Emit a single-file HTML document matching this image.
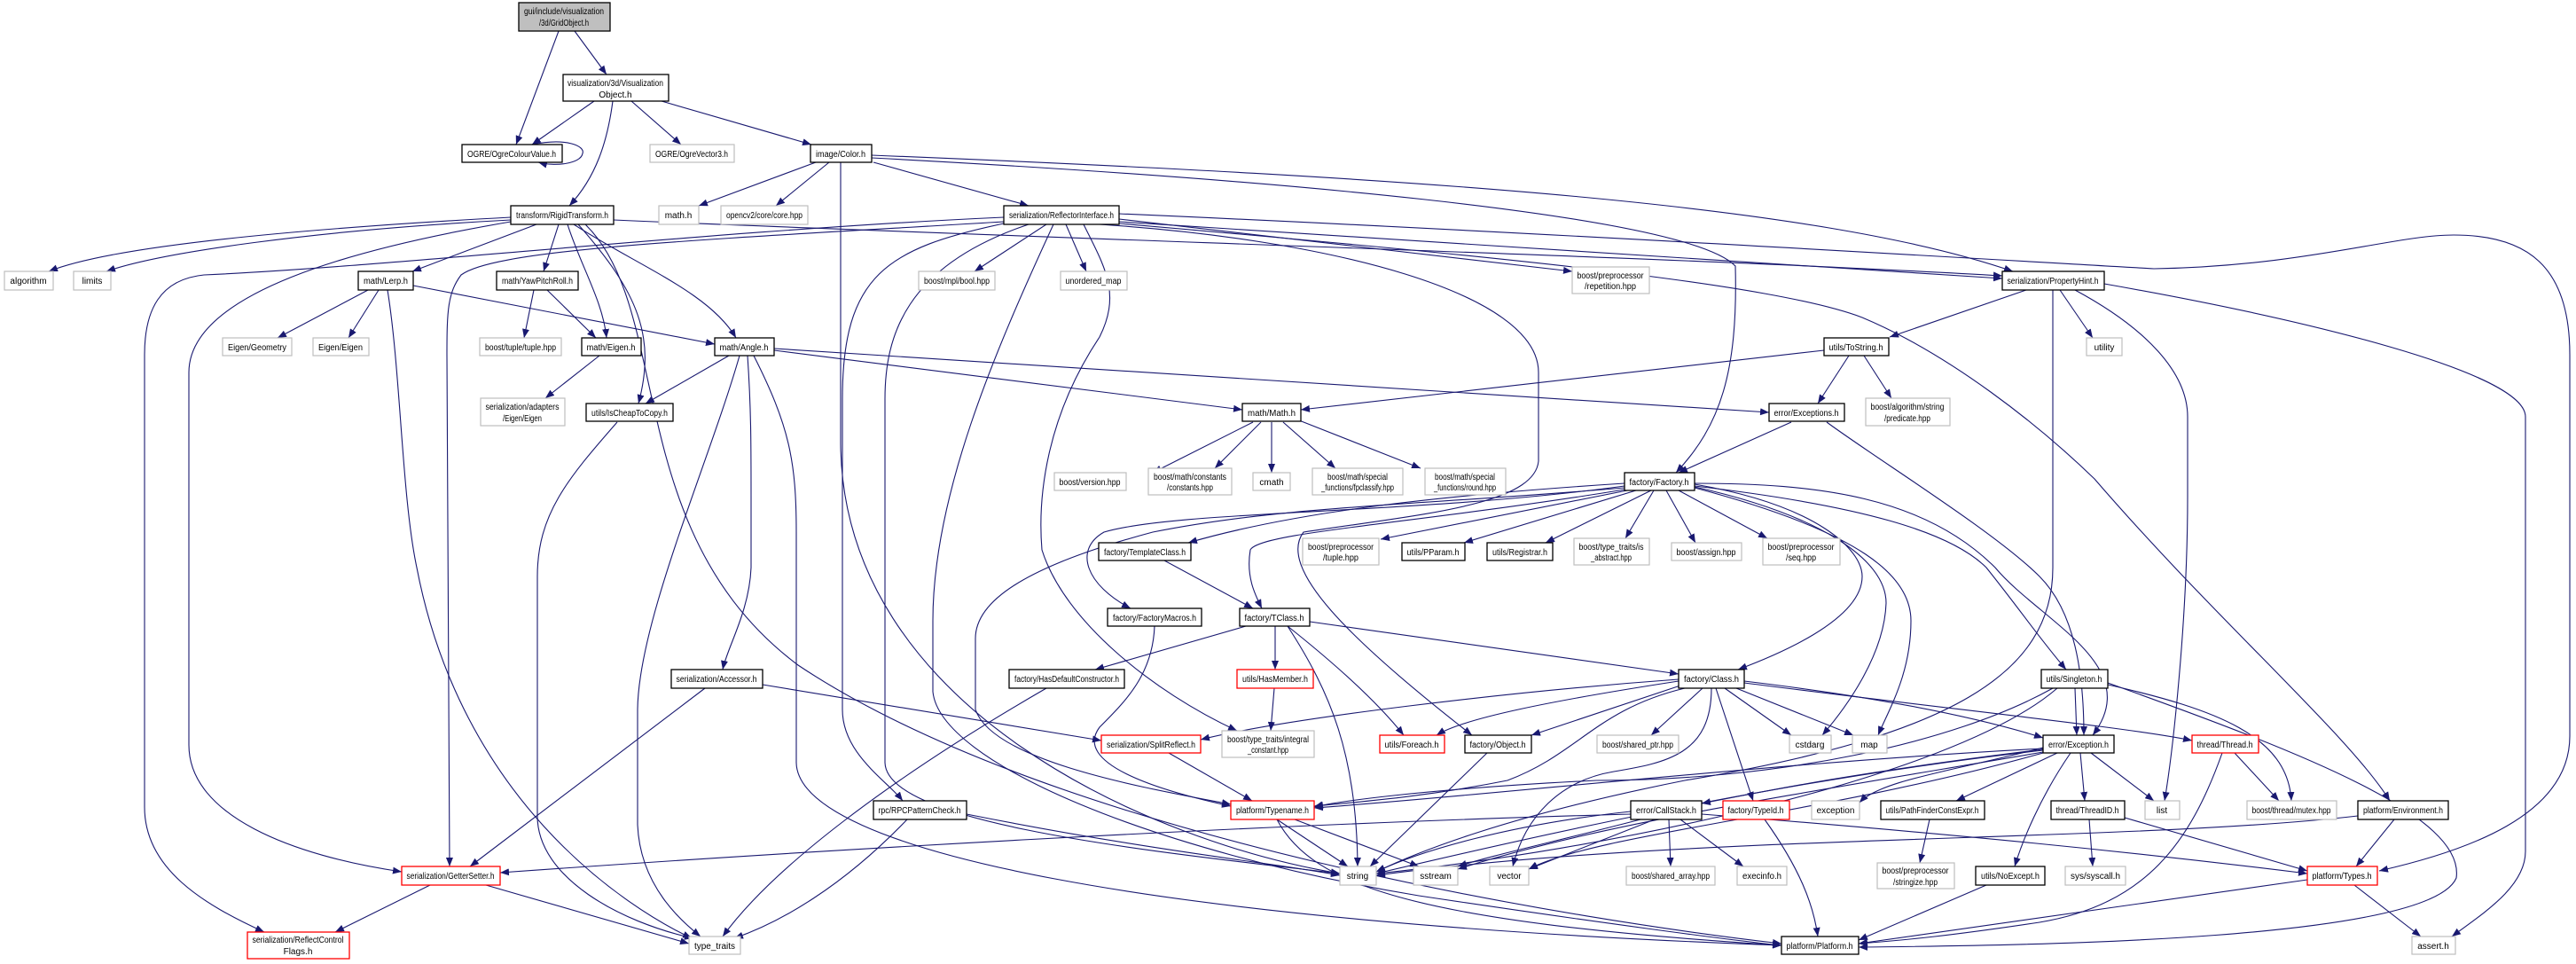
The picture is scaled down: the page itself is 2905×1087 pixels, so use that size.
<!DOCTYPE html>
<html><head><meta charset="utf-8"><style>
html,body{margin:0;padding:0;background:#fff;}
svg{display:block}
text{font-family:"Liberation Sans",sans-serif;font-size:10px;fill:#000;text-anchor:middle}
.e{fill:none;stroke:#191970;stroke-width:1.1;marker-end:url(#a)}
.b{fill:#fff;stroke:#000;stroke-width:1.3}
.g{fill:#fff;stroke:#bfbfbf;stroke-width:1.2}
.r{fill:#fff;stroke:#ff0000;stroke-width:1.3}
</style></head><body>
<svg width="2905" height="1087" viewBox="0 0 2905 1087" xmlns="http://www.w3.org/2000/svg">
<defs><marker id="a" markerUnits="userSpaceOnUse" markerWidth="11" markerHeight="8" refX="10" refY="4" orient="auto"><path d="M0,0 L10,4 L0,8 z" fill="#191970"/></marker></defs>
<g>
<path class="e" d="M630,35 L582,163"/>
<path class="e" d="M648,35 L684,84"/>
<path class="e" d="M670,114 L600,163"/>
<path class="e" d="M691,114 C685,160 672,200 642,232"/>
<path class="e" d="M712,114 L768,163"/>
<path class="e" d="M746,114 L915,163"/>
<path class="e" d="M600,163 C640,155 660,165 657,173 C655,185 625,188 607,183"/>
<path class="e" d="M920,183 L788,232"/>
<path class="e" d="M935,183 L875,232"/>
<path class="e" d="M985,183 L1160,232"/>
<path class="e" d="M983,175 C1600,200 2050,230 2270,306"/>
<path class="e" d="M983,178 C1400,200 1900,240 1957,300 C1960,420 1940,480 1890,533"/>
<path class="e" d="M948,183 L948,500 C950,800 1300,950 1511,985"/>
<path class="e" d="M576,245 C300,260 120,280 55,306"/>
<path class="e" d="M576,248 C350,260 180,285 120,306"/>
<path class="e" d="M605,253 L465,306"/>
<path class="e" d="M630,253 L613,306"/>
<path class="e" d="M640,253 C655,300 680,340 684,381"/>
<path class="e" d="M647,253 C720,300 800,330 830,381"/>
<path class="e" d="M652,253 C720,330 740,380 720,455"/>
<path class="e" d="M576,250 C400,280 213,330 213,420 L213,840 C213,920 330,965 453,983"/>
<path class="e" d="M1132,245 C800,260 450,300 230,310 C180,315 163,350 163,400 L163,910 C163,980 230,1020 298,1051"/>
<path class="e" d="M692,248 C1200,270 1900,290 2258,311"/>
<path class="e" d="M660,253 C760,350 700,600 900,750 C1200,950 1800,1040 2009,1064"/>
<path class="e" d="M1132,250 C800,270 560,280 520,310 C505,330 504,350 504,400 L507,977"/>
<path class="e" d="M415,327 L313,381"/>
<path class="e" d="M427,327 L393,381"/>
<path class="e" d="M466,322 L806,388"/>
<path class="e" d="M437,327 C452,420 453,560 470,640 C520,900 700,1020 780,1058"/>
<path class="e" d="M602,327 L591,381"/>
<path class="e" d="M617,327 L672,381"/>
<path class="e" d="M676,401 L615,449"/>
<path class="e" d="M822,401 L728,455"/>
<path class="e" d="M834,401 C800,520 720,700 719,800 L719,930 C722,1000 770,1040 790,1056"/>
<path class="e" d="M696,476 C640,540 606,580 606,650 L606,920 C606,990 700,1040 782,1058"/>
<path class="e" d="M843,401 C847,460 847,500 847,560 L847,640 C845,690 820,730 815,755"/>
<path class="e" d="M850,401 C890,480 898,520 898,600 L898,860 C900,960 1300,1040 2009,1066"/>
<path class="e" d="M873,395 L1401,462"/>
<path class="e" d="M873,393 C1400,430 1800,450 1995,465"/>
<path class="e" d="M2057,395 L1467,462"/>
<path class="e" d="M2085,401 L2050,455"/>
<path class="e" d="M2102,401 L2133,449"/>
<path class="e" d="M1413,476 L1300,533"/>
<path class="e" d="M1422,476 L1370,528"/>
<path class="e" d="M1434,476 L1434,533"/>
<path class="e" d="M1447,476 L1506,528"/>
<path class="e" d="M1465,474 L1602,528"/>
<path class="e" d="M2020,476 L1893,533"/>
<path class="e" d="M2060,476 C2120,520 2250,600 2300,650 C2340,690 2350,760 2350,829"/>
<path class="e" d="M2285,327 L2131,380"/>
<path class="e" d="M2323,327 L2360,381"/>
<path class="e" d="M2340,327 C2420,370 2467,420 2467,470 L2467,560 C2467,700 2450,850 2441,903"/>
<path class="e" d="M2315,327 L2315,640 C2315,760 2200,830 1900,880 C1700,920 1600,960 1552,983"/>
<path class="e" d="M2373,320 C2600,360 2848,420 2848,470 L2848,960 C2848,1000 2800,1030 2765,1056"/>
<path class="e" d="M1262,241 C1700,260 2200,290 2429,303 C2600,300 2700,265 2767,265 C2850,265 2898,300 2898,400 L2898,830 C2898,920 2780,960 2683,982"/>
<path class="e" d="M1180,253 L1099,306"/>
<path class="e" d="M1202,253 L1225,306"/>
<path class="e" d="M1262,247 L1773,306"/>
<path class="e" d="M1262,250 L2258,314"/>
<path class="e" d="M1132,252 C1000,280 950,310 950,450 L950,800 C950,850 1000,880 1018,903"/>
<path class="e" d="M1188,253 C1120,400 1052,560 1052,700 L1052,780 C1060,860 1300,960 1600,1010 C1800,1040 1950,1060 2009,1066"/>
<path class="e" d="M1160,253 C1020,300 998,380 998,450 L998,860 C1000,930 1300,960 1511,985"/>
<path class="e" d="M1222,253 C1245,300 1265,330 1240,380 C1180,470 1170,560 1175,620 C1200,700 1300,780 1395,824"/>
<path class="e" d="M1262,252 C1700,290 2000,320 2100,358 C2200,400 2300,480 2362,540 C2500,700 2650,830 2695,903"/>
<path class="e" d="M1240,253 C1500,270 1735,330 1735,420 L1735,520 C1730,570 1600,580 1470,600 C1440,640 1520,720 1660,829"/>
<path class="e" d="M1832,550 C1600,570 1450,570 1300,600 C1150,640 1100,680 1100,720 L1100,800 C1120,860 1300,890 1388,907"/>
<path class="e" d="M1832,545 C1600,560 1450,580 1340,612"/>
<path class="e" d="M1832,548 C1600,580 1330,575 1245,600 C1210,620 1225,660 1275,686"/>
<path class="e" d="M1832,552 C1600,590 1420,600 1410,620 C1405,650 1415,670 1423,686"/>
<path class="e" d="M1835,553 L1557,608"/>
<path class="e" d="M1845,553 L1651,612"/>
<path class="e" d="M1862,553 L1743,612"/>
<path class="e" d="M1865,553 L1833,607"/>
<path class="e" d="M1879,553 L1912,612"/>
<path class="e" d="M1893,553 L1993,607"/>
<path class="e" d="M1911,546 C2050,570 2100,620 2100,650 C2100,700 2000,740 1960,755"/>
<path class="e" d="M1911,549 C2050,580 2127,630 2127,680 C2125,740 2080,800 2055,829"/>
<path class="e" d="M1911,550 C2100,600 2155,650 2155,700 C2155,760 2130,800 2118,829"/>
<path class="e" d="M1911,548 C2100,570 2200,600 2240,640 C2280,690 2300,720 2330,755"/>
<path class="e" d="M1911,545 C2050,545 2170,560 2250,640 C2300,700 2420,750 2360,829"/>
<path class="e" d="M1313,632 L1413,686"/>
<path class="e" d="M1438,706 L1438,755"/>
<path class="e" d="M1405,706 L1235,755"/>
<path class="e" d="M1477,701 L1893,760"/>
<path class="e" d="M1452,706 C1520,760 1560,800 1583,829"/>
<path class="e" d="M1452,706 C1500,780 1530,850 1531,977"/>
<path class="e" d="M1302,706 C1300,760 1270,790 1240,820 C1210,860 1300,890 1388,909"/>
<path class="e" d="M1437,776 L1433,824"/>
<path class="e" d="M1180,776 C1000,880 870,980 815,1056"/>
<path class="e" d="M860,772 L1242,835"/>
<path class="e" d="M795,776 L530,977"/>
<path class="e" d="M1318,849 L1412,903"/>
<path class="e" d="M1893,768 C1750,790 1650,810 1620,829"/>
<path class="e" d="M1898,772 L1727,829"/>
<path class="e" d="M1920,776 L1862,829"/>
<path class="e" d="M1945,776 L2020,829"/>
<path class="e" d="M1958,776 L2090,829"/>
<path class="e" d="M1935,776 L1977,903"/>
<path class="e" d="M1893,766 C1700,780 1450,810 1354,834"/>
<path class="e" d="M1900,776 C1800,800 1780,850 1700,880 C1600,900 1520,905 1482,909"/>
<path class="e" d="M1930,776 C1930,850 1880,860 1820,870 C1760,880 1720,920 1706,977"/>
<path class="e" d="M1967,770 C2200,800 2400,820 2472,835"/>
<path class="e" d="M1967,768 C2150,790 2250,815 2304,832"/>
<path class="e" d="M2340,776 L2342,829"/>
<path class="e" d="M2377,772 C2500,800 2580,830 2584,903"/>
<path class="e" d="M2377,770 C2600,850 2780,920 2770,990 C2740,1060 2300,1066 2096,1068"/>
<path class="e" d="M2320,776 C2200,880 1800,960 1552,985"/>
<path class="e" d="M2315,776 C2200,840 2000,880 1800,880 C1600,890 1500,905 1482,910"/>
<path class="e" d="M2358,849 L2429,903"/>
<path class="e" d="M2346,849 L2351,903"/>
<path class="e" d="M2320,849 L2206,903"/>
<path class="e" d="M2335,849 C2300,900 2280,950 2272,977"/>
<path class="e" d="M2304,845 C2100,870 2000,890 1919,906"/>
<path class="e" d="M2304,843 C2200,870 2120,880 2097,905"/>
<path class="e" d="M2304,846 C2000,880 1700,950 1552,985"/>
<path class="e" d="M2304,848 C2000,900 1800,930 1644,980"/>
<path class="e" d="M2304,849 C2050,920 1800,940 1724,980"/>
<path class="e" d="M2304,844 C2000,860 1700,895 1482,911"/>
<path class="e" d="M2520,849 L2570,903"/>
<path class="e" d="M2506,849 C2470,950 2420,1020 2300,1040 C2200,1055 2150,1060 2096,1064"/>
<path class="e" d="M2356,924 L2360,977"/>
<path class="e" d="M2396,922 L2602,982"/>
<path class="e" d="M2176,924 L2165,973"/>
<path class="e" d="M2240,998 L2096,1060"/>
<path class="e" d="M2700,924 L2657,977"/>
<path class="e" d="M2659,920 C2400,950 1900,940 1552,987"/>
<path class="e" d="M2655,998 L2730,1056"/>
<path class="e" d="M2602,992 L2096,1064"/>
<path class="e" d="M1440,924 L1520,977"/>
<path class="e" d="M1460,924 L1600,977"/>
<path class="e" d="M1440,924 C1480,1000 1600,1040 2009,1066"/>
<path class="e" d="M1839,915 C1700,930 1600,960 1552,983"/>
<path class="e" d="M1850,924 C1750,950 1680,965 1644,977"/>
<path class="e" d="M1866,924 L1724,980"/>
<path class="e" d="M1882,924 L1884,977"/>
<path class="e" d="M1895,924 L1966,977"/>
<path class="e" d="M1839,918 C1400,930 900,960 564,984"/>
<path class="e" d="M1919,918 C2200,940 2400,960 2602,985"/>
<path class="e" d="M1990,924 C2030,980 2045,1020 2050,1056"/>
<path class="e" d="M1677,849 L1545,977"/>
<path class="e" d="M1023,924 C950,1000 880,1040 828,1058"/>
<path class="e" d="M1090,918 C1300,960 1450,975 1511,987"/>
<path class="e" d="M485,998 L378,1051"/>
<path class="e" d="M548,998 L777,1064"/>
</g>
<g>
<rect x="585" y="3" width="103" height="32" fill="#bfbfbf" stroke="#000" stroke-width="1.3"/><text x="636" y="16" textLength="90" lengthAdjust="spacingAndGlyphs">gui/include/visualization</text><text x="636" y="29" textLength="56" lengthAdjust="spacingAndGlyphs">/3d/GridObject.h</text>
<rect class="b" x="635" y="84" width="119" height="30"/><text x="694" y="97" textLength="108" lengthAdjust="spacingAndGlyphs">visualization/3d/Visualization</text><text x="694" y="110">Object.h</text>
<rect class="b" x="521" y="163" width="113" height="20"/><text x="577" y="177" textLength="100" lengthAdjust="spacingAndGlyphs">OGRE/OgreColourValue.h</text>
<rect class="g" x="733" y="163" width="95" height="20"/><text x="780" y="177" textLength="82" lengthAdjust="spacingAndGlyphs">OGRE/OgreVector3.h</text>
<rect class="b" x="914" y="163" width="69" height="20"/><text x="948" y="177" textLength="56" lengthAdjust="spacingAndGlyphs">image/Color.h</text>
<rect class="b" x="576" y="232" width="116" height="21"/><text x="634" y="246" textLength="104" lengthAdjust="spacingAndGlyphs">transform/RigidTransform.h</text>
<rect class="g" x="743" y="232" width="45" height="21"/><text x="765" y="246">math.h</text>
<rect class="g" x="813" y="232" width="98" height="21"/><text x="862" y="246" textLength="86" lengthAdjust="spacingAndGlyphs">opencv2/core/core.hpp</text>
<rect class="b" x="1132" y="232" width="130" height="21"/><text x="1197" y="246" textLength="118" lengthAdjust="spacingAndGlyphs">serialization/ReflectorInterface.h</text>
<rect class="g" x="5" y="306" width="55" height="21"/><text x="32" y="320">algorithm</text>
<rect class="g" x="83" y="306" width="42" height="21"/><text x="104" y="320">limits</text>
<rect class="b" x="404" y="306" width="62" height="21"/><text x="435" y="320" textLength="50" lengthAdjust="spacingAndGlyphs">math/Lerp.h</text>
<rect class="b" x="560" y="306" width="92" height="21"/><text x="606" y="320" textLength="80" lengthAdjust="spacingAndGlyphs">math/YawPitchRoll.h</text>
<rect class="g" x="1036" y="306" width="86" height="21"/><text x="1079" y="320" textLength="74" lengthAdjust="spacingAndGlyphs">boost/mpl/bool.hpp</text>
<rect class="g" x="1196" y="306" width="75" height="21"/><text x="1233" y="320" textLength="63" lengthAdjust="spacingAndGlyphs">unordered_map</text>
<rect class="g" x="1773" y="301" width="87" height="30"/><text x="1816" y="314" textLength="75" lengthAdjust="spacingAndGlyphs">boost/preprocessor</text><text x="1816" y="326" textLength="58" lengthAdjust="spacingAndGlyphs">/repetition.hpp</text>
<rect class="b" x="2258" y="306" width="115" height="21"/><text x="2315" y="320" textLength="103" lengthAdjust="spacingAndGlyphs">serialization/PropertyHint.h</text>
<rect class="g" x="251" y="381" width="78" height="20"/><text x="290" y="395" textLength="66" lengthAdjust="spacingAndGlyphs">Eigen/Geometry</text>
<rect class="g" x="353" y="381" width="63" height="20"/><text x="384" y="395" textLength="50" lengthAdjust="spacingAndGlyphs">Eigen/Eigen</text>
<rect class="g" x="541" y="381" width="92" height="20"/><text x="587" y="395" textLength="80" lengthAdjust="spacingAndGlyphs">boost/tuple/tuple.hpp</text>
<rect class="b" x="656" y="381" width="67" height="20"/><text x="689" y="395" textLength="55" lengthAdjust="spacingAndGlyphs">math/Eigen.h</text>
<rect class="b" x="806" y="381" width="67" height="20"/><text x="839" y="395" textLength="55" lengthAdjust="spacingAndGlyphs">math/Angle.h</text>
<rect class="b" x="2057" y="381" width="73" height="20"/><text x="2093" y="395" textLength="61" lengthAdjust="spacingAndGlyphs">utils/ToString.h</text>
<rect class="g" x="2353" y="381" width="40" height="20"/><text x="2373" y="395">utility</text>
<rect class="g" x="542" y="449" width="95" height="31"/><text x="589" y="462" textLength="83" lengthAdjust="spacingAndGlyphs">serialization/adapters</text><text x="589" y="475" textLength="44" lengthAdjust="spacingAndGlyphs">/Eigen/Eigen</text>
<rect class="b" x="661" y="455" width="98" height="20"/><text x="710" y="469" textLength="86" lengthAdjust="spacingAndGlyphs">utils/IsCheapToCopy.h</text>
<rect class="b" x="1401" y="455" width="66" height="20"/><text x="1434" y="469" textLength="54" lengthAdjust="spacingAndGlyphs">math/Math.h</text>
<rect class="b" x="1995" y="455" width="85" height="20"/><text x="2037" y="469" textLength="73" lengthAdjust="spacingAndGlyphs">error/Exceptions.h</text>
<rect class="g" x="2104" y="449" width="95" height="31"/><text x="2151" y="462" textLength="83" lengthAdjust="spacingAndGlyphs">boost/algorithm/string</text><text x="2151" y="475" textLength="52" lengthAdjust="spacingAndGlyphs">/predicate.hpp</text>
<rect class="g" x="1189" y="533" width="81" height="20"/><text x="1229" y="547" textLength="69" lengthAdjust="spacingAndGlyphs">boost/version.hpp</text>
<rect class="g" x="1295" y="528" width="94" height="30"/><text x="1342" y="541" textLength="82" lengthAdjust="spacingAndGlyphs">boost/math/constants</text><text x="1342" y="553" textLength="52" lengthAdjust="spacingAndGlyphs">/constants.hpp</text>
<rect class="g" x="1413" y="533" width="42" height="20"/><text x="1434" y="547">cmath</text>
<rect class="g" x="1480" y="528" width="102" height="30"/><text x="1531" y="541" textLength="68" lengthAdjust="spacingAndGlyphs">boost/math/special</text><text x="1531" y="553" textLength="82" lengthAdjust="spacingAndGlyphs">_functions/fpclassify.hpp</text>
<rect class="g" x="1607" y="528" width="91" height="30"/><text x="1652" y="541" textLength="68" lengthAdjust="spacingAndGlyphs">boost/math/special</text><text x="1652" y="553" textLength="70" lengthAdjust="spacingAndGlyphs">_functions/round.hpp</text>
<rect class="b" x="1832" y="533" width="79" height="20"/><text x="1871" y="547" textLength="67" lengthAdjust="spacingAndGlyphs">factory/Factory.h</text>
<rect class="b" x="1239" y="612" width="104" height="20"/><text x="1291" y="626" textLength="92" lengthAdjust="spacingAndGlyphs">factory/TemplateClass.h</text>
<rect class="g" x="1469" y="607" width="86" height="30"/><text x="1512" y="620" textLength="74" lengthAdjust="spacingAndGlyphs">boost/preprocessor</text><text x="1512" y="632" textLength="40" lengthAdjust="spacingAndGlyphs">/tuple.hpp</text>
<rect class="b" x="1581" y="612" width="71" height="20"/><text x="1616" y="626" textLength="59" lengthAdjust="spacingAndGlyphs">utils/PParam.h</text>
<rect class="b" x="1677" y="612" width="74" height="20"/><text x="1714" y="626" textLength="62" lengthAdjust="spacingAndGlyphs">utils/Registrar.h</text>
<rect class="g" x="1775" y="607" width="85" height="30"/><text x="1817" y="620" textLength="73" lengthAdjust="spacingAndGlyphs">boost/type_traits/is</text><text x="1817" y="632" textLength="46" lengthAdjust="spacingAndGlyphs">_abstract.hpp</text>
<rect class="g" x="1885" y="612" width="79" height="20"/><text x="1924" y="626" textLength="67" lengthAdjust="spacingAndGlyphs">boost/assign.hpp</text>
<rect class="g" x="1988" y="607" width="87" height="30"/><text x="2031" y="620" textLength="75" lengthAdjust="spacingAndGlyphs">boost/preprocessor</text><text x="2031" y="632" textLength="34" lengthAdjust="spacingAndGlyphs">/seq.hpp</text>
<rect class="b" x="1249" y="686" width="106" height="20"/><text x="1302" y="700" textLength="94" lengthAdjust="spacingAndGlyphs">factory/FactoryMacros.h</text>
<rect class="b" x="1398" y="686" width="79" height="20"/><text x="1437" y="700" textLength="67" lengthAdjust="spacingAndGlyphs">factory/TClass.h</text>
<rect class="b" x="757" y="755" width="103" height="21"/><text x="808" y="769" textLength="91" lengthAdjust="spacingAndGlyphs">serialization/Accessor.h</text>
<rect class="b" x="1138" y="755" width="130" height="21"/><text x="1203" y="769" textLength="118" lengthAdjust="spacingAndGlyphs">factory/HasDefaultConstructor.h</text>
<rect class="r" x="1395" y="755" width="86" height="21"/><text x="1438" y="769" textLength="74" lengthAdjust="spacingAndGlyphs">utils/HasMember.h</text>
<rect class="b" x="1893" y="755" width="74" height="21"/><text x="1930" y="769" textLength="62" lengthAdjust="spacingAndGlyphs">factory/Class.h</text>
<rect class="b" x="2302" y="755" width="75" height="21"/><text x="2339" y="769" textLength="63" lengthAdjust="spacingAndGlyphs">utils/Singleton.h</text>
<rect class="r" x="1242" y="829" width="112" height="20"/><text x="1298" y="843" textLength="100" lengthAdjust="spacingAndGlyphs">serialization/SplitReflect.h</text>
<rect class="g" x="1378" y="824" width="104" height="30"/><text x="1430" y="837" textLength="92" lengthAdjust="spacingAndGlyphs">boost/type_traits/integral</text><text x="1430" y="849" textLength="46" lengthAdjust="spacingAndGlyphs">_constant.hpp</text>
<rect class="r" x="1556" y="829" width="73" height="20"/><text x="1592" y="843" textLength="61" lengthAdjust="spacingAndGlyphs">utils/Foreach.h</text>
<rect class="b" x="1652" y="829" width="75" height="20"/><text x="1689" y="843" textLength="63" lengthAdjust="spacingAndGlyphs">factory/Object.h</text>
<rect class="g" x="1801" y="829" width="92" height="20"/><text x="1847" y="843" textLength="80" lengthAdjust="spacingAndGlyphs">boost/shared_ptr.hpp</text>
<rect class="g" x="2018" y="829" width="47" height="20"/><text x="2041" y="843">cstdarg</text>
<rect class="g" x="2089" y="829" width="39" height="20"/><text x="2108" y="843">map</text>
<rect class="b" x="2304" y="829" width="80" height="20"/><text x="2344" y="843" textLength="68" lengthAdjust="spacingAndGlyphs">error/Exception.h</text>
<rect class="r" x="2472" y="829" width="75" height="20"/><text x="2509" y="843" textLength="63" lengthAdjust="spacingAndGlyphs">thread/Thread.h</text>
<rect class="b" x="985" y="903" width="105" height="21"/><text x="1037" y="917" textLength="93" lengthAdjust="spacingAndGlyphs">rpc/RPCPatternCheck.h</text>
<rect class="r" x="1388" y="903" width="94" height="21"/><text x="1435" y="917" textLength="82" lengthAdjust="spacingAndGlyphs">platform/Typename.h</text>
<rect class="b" x="1839" y="903" width="80" height="21"/><text x="1879" y="917" textLength="68" lengthAdjust="spacingAndGlyphs">error/CallStack.h</text>
<rect class="r" x="1943" y="903" width="75" height="21"/><text x="1980" y="917" textLength="63" lengthAdjust="spacingAndGlyphs">factory/TypeId.h</text>
<rect class="g" x="2043" y="903" width="54" height="21"/><text x="2070" y="917">exception</text>
<rect class="b" x="2121" y="903" width="117" height="21"/><text x="2179" y="917" textLength="105" lengthAdjust="spacingAndGlyphs">utils/PathFinderConstExpr.h</text>
<rect class="b" x="2313" y="903" width="83" height="21"/><text x="2354" y="917" textLength="71" lengthAdjust="spacingAndGlyphs">thread/ThreadID.h</text>
<rect class="g" x="2419" y="903" width="39" height="21"/><text x="2438" y="917">list</text>
<rect class="g" x="2534" y="903" width="101" height="21"/><text x="2584" y="917" textLength="89" lengthAdjust="spacingAndGlyphs">boost/thread/mutex.hpp</text>
<rect class="b" x="2659" y="903" width="102" height="21"/><text x="2710" y="917" textLength="90" lengthAdjust="spacingAndGlyphs">platform/Environment.h</text>
<rect class="r" x="453" y="977" width="111" height="21"/><text x="508" y="991" textLength="99" lengthAdjust="spacingAndGlyphs">serialization/GetterSetter.h</text>
<rect class="g" x="1511" y="977" width="41" height="21"/><text x="1531" y="991">string</text>
<rect class="g" x="1594" y="977" width="50" height="21"/><text x="1619" y="991">sstream</text>
<rect class="g" x="1680" y="977" width="44" height="21"/><text x="1702" y="991">vector</text>
<rect class="g" x="1834" y="977" width="100" height="21"/><text x="1884" y="991" textLength="88" lengthAdjust="spacingAndGlyphs">boost/shared_array.hpp</text>
<rect class="g" x="1959" y="977" width="56" height="21"/><text x="1987" y="991" textLength="44" lengthAdjust="spacingAndGlyphs">execinfo.h</text>
<rect class="g" x="2117" y="973" width="87" height="29"/><text x="2160" y="985" textLength="75" lengthAdjust="spacingAndGlyphs">boost/preprocessor</text><text x="2160" y="998" textLength="50" lengthAdjust="spacingAndGlyphs">/stringize.hpp</text>
<rect class="b" x="2228" y="977" width="78" height="21"/><text x="2267" y="991" textLength="66" lengthAdjust="spacingAndGlyphs">utils/NoExcept.h</text>
<rect class="g" x="2329" y="977" width="68" height="21"/><text x="2363" y="991" textLength="56" lengthAdjust="spacingAndGlyphs">sys/syscall.h</text>
<rect class="r" x="2602" y="977" width="79" height="21"/><text x="2641" y="991" textLength="67" lengthAdjust="spacingAndGlyphs">platform/Types.h</text>
<rect class="r" x="279" y="1051" width="115" height="30"/><text x="336" y="1063" textLength="103" lengthAdjust="spacingAndGlyphs">serialization/ReflectControl</text><text x="336" y="1076">Flags.h</text>
<rect class="g" x="777" y="1056" width="58" height="20"/><text x="806" y="1070" textLength="46" lengthAdjust="spacingAndGlyphs">type_traits</text>
<rect class="b" x="2009" y="1056" width="87" height="20"/><text x="2052" y="1070" textLength="75" lengthAdjust="spacingAndGlyphs">platform/Platform.h</text>
<rect class="g" x="2720" y="1056" width="49" height="20"/><text x="2744" y="1070">assert.h</text>
</g>
</svg>
</body></html>
